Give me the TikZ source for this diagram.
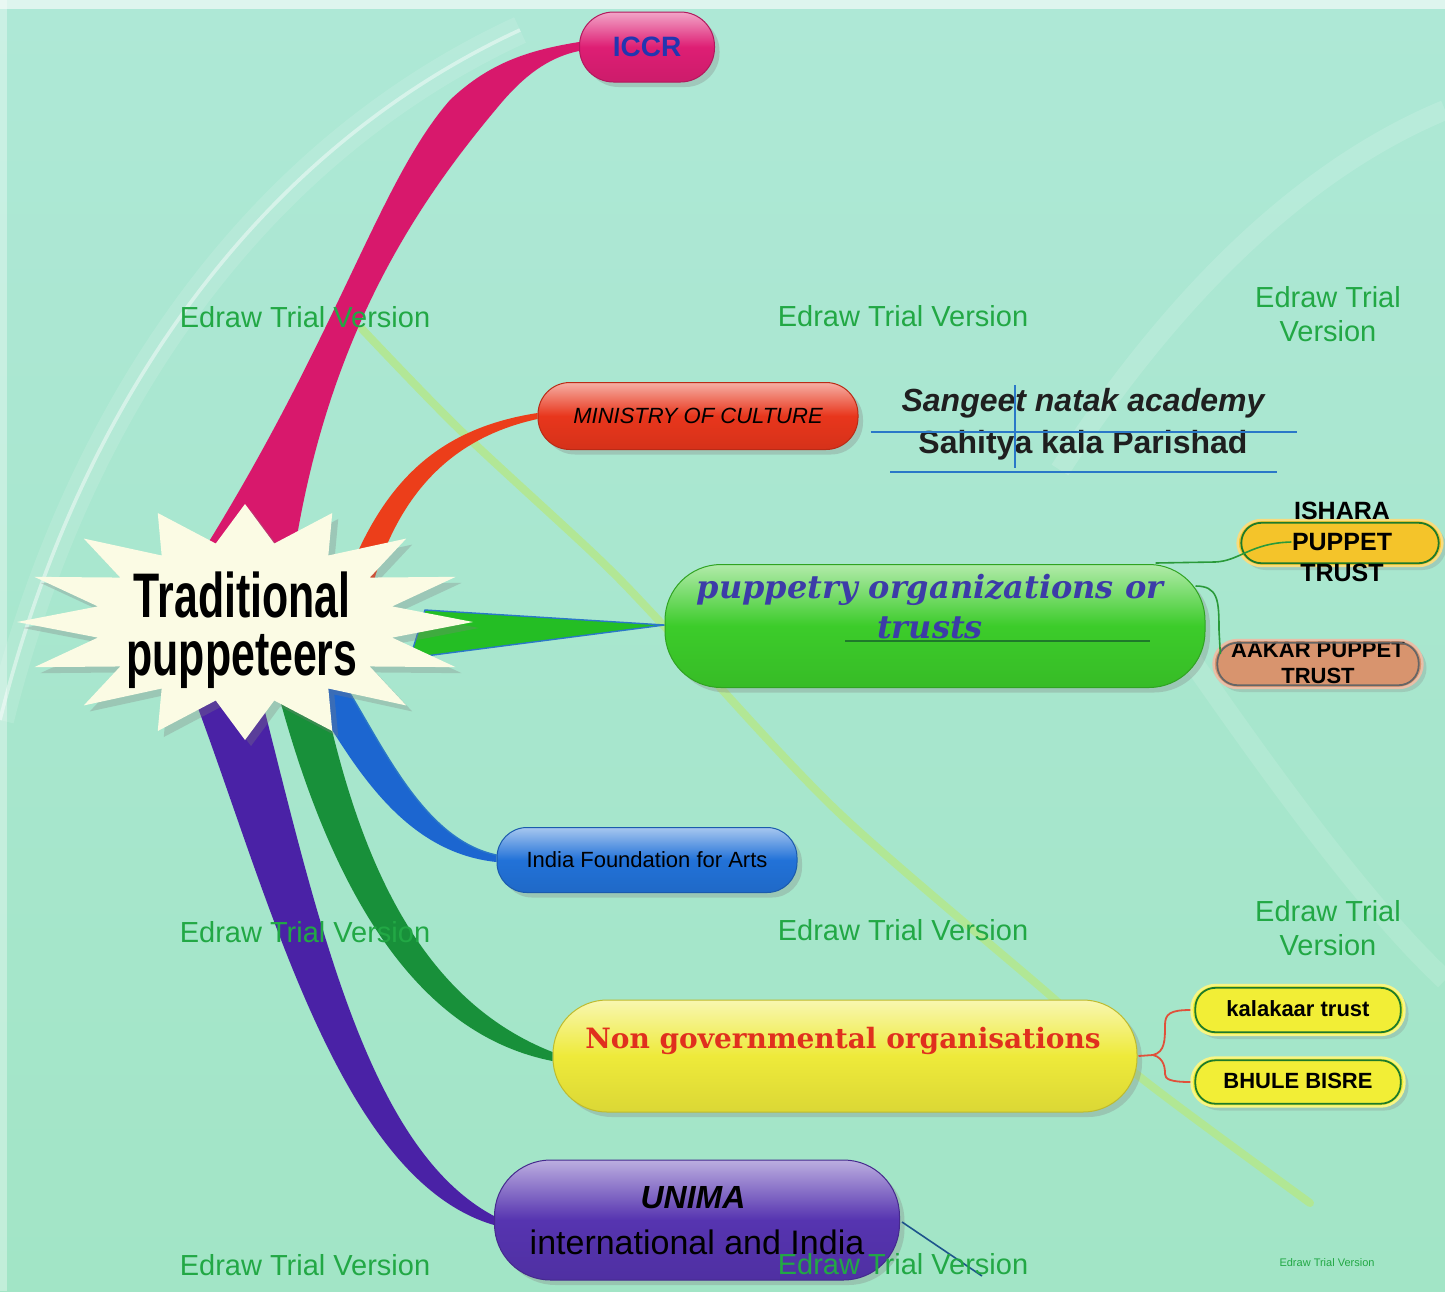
\documentclass[tikz,border=0pt]{standalone}
\usepackage{fontspec}
\setmainfont{Liberation Sans}
\newfontfamily\dvserif{DejaVu Serif}
\usetikzlibrary{shadows,calc}
\definecolor{bgtop}{HTML}{AEE8D6}
\definecolor{bgbot}{HTML}{A2E5C6}
\definecolor{wmC}{HTML}{22A845}
\definecolor{cICCR}{HTML}{DE1E74}
\definecolor{cMin}{HTML}{E8361C}
\definecolor{cPup}{HTML}{3CCC2A}
\definecolor{cInd}{HTML}{2272D8}
\definecolor{cNgo}{HTML}{EEEA3A}
\definecolor{cUni}{HTML}{5634B0}
\definecolor{rMag}{HTML}{D8186C}
\definecolor{rRed}{HTML}{EC3E1A}
\definecolor{rGrn}{HTML}{24BE24}
\definecolor{rBlu}{HTML}{1C66D0}
\definecolor{rDgr}{HTML}{18903A}
\definecolor{rPur}{HTML}{4A22A6}
\definecolor{ishC}{HTML}{F4C42A}
\definecolor{aakC}{HTML}{D8946E}
\definecolor{smallY}{HTML}{F2EE36}
\definecolor{dkgreen}{HTML}{1E7A2A}
\definecolor{pupText}{HTML}{3C3CA8}
\definecolor{ngoText}{HTML}{E0301E}
\definecolor{iccrText}{HTML}{2236B0}
\definecolor{starC}{HTML}{FBFBE4}
\definecolor{lineBlue}{HTML}{2A78C8}
\definecolor{diagC}{HTML}{B4E88C}
\definecolor{conRed}{HTML}{E0503A}
\definecolor{conGrn}{HTML}{2A9A3A}
\pgfdeclarelayer{back}\pgfdeclarelayer{ribbons}\pgfdeclarelayer{front}
\pgfsetlayers{back,ribbons,main,front}
\newcommand\fsz[2]{\fontsize{#1}{#2}\selectfont}
\begin{document}
\begin{tikzpicture}[x=0.5pt,y=-0.5pt,
  pill/.style={rectangle, inner sep=0pt, top color=#1!40!white, bottom color=#1!92!black, middle color=#1,
     draw=#1!80!black, line width=0.5pt,
     drop shadow={opacity=0.3, shadow xshift=2.5pt, shadow yshift=-2.5pt}},
  smallpill/.style={rectangle, inner sep=0pt, rounded corners=12pt, fill=#1, draw=#1!60!white, line width=1.2pt,
     drop shadow={opacity=0.25, shadow xshift=2pt, shadow yshift=-2pt}},
  innerline/.style={draw=dkgreen, line width=0.9pt, rounded corners=10pt},
  wmark/.style={text=wmC, font=\fsz{14.5}{17}, align=center, inner sep=0pt},
  ribbonedge/.style={draw=lineBlue, line width=0.7pt},
  txt/.style={inner sep=0pt, align=center}
]
\useasboundingbox (0,0) rectangle (1445,1291);

% ---------- background ----------
\begin{pgfonlayer}{back}
\fill[top color=bgtop, bottom color=bgbot] (0,0) rectangle (1445,1291);
\fill[white, opacity=0.6] (0,0) rectangle (1445,9);
\fill[white, opacity=0.35] (0,0) rectangle (7,1291);
\draw[white, opacity=0.12, line width=14pt] (0,720) .. controls (80,400) and (260,150) .. (520,30);
\draw[white, opacity=0.45, line width=1.8pt] (0,720) .. controls (80,400) and (260,150) .. (520,30);
\draw[white, opacity=0.14, line width=10pt] (1445,110) .. controls (1300,170) and (1170,300) .. (1060,470);
\draw[white, opacity=0.12, line width=10pt] (1150,600) .. controls (1260,760) and (1360,900) .. (1445,980);
\draw[diagC, opacity=0.85, line width=4pt, line cap=round] plot[smooth] coordinates {(362,329) (459,429) (597,557) (665,627) (836,810) (1052,997) (1140,1077) (1310,1203)};
\end{pgfonlayer}

% ---------- nodes ----------
\coordinate (hub) at (245,622);
\node[pill=cICCR, minimum width=67.5pt, minimum height=35pt, rounded corners=17pt,
      text=iccrText, font=\fsz{14}{16}\bfseries] (iccr) at (647,47) {ICCR};
\node[pill=cMin, minimum width=160pt, minimum height=33.5pt, rounded corners=16pt,
      font=\fsz{11}{13}\itshape] (min) at (698,416) {MINISTRY OF CULTURE};
\node[pill=cPup, minimum width=270pt, minimum height=61.5pt, rounded corners=28pt] (pup) at (935,626) {};
\node[txt, text=pupText, font=\dvserif\fsz{16}{18}\bfseries\itshape] (pupA) at (930,590) {puppetry organizations or};
\node[txt, text=pupText, font=\dvserif\fsz{16}{18}\bfseries\itshape] (pupB) at (930,628) {trusts};
\draw[dkgreen, line width=0.6pt] (845,641) -- (1150,641);
\node[pill=cInd, minimum width=150pt, minimum height=32.5pt, rounded corners=15pt,
      font=\fsz{11}{13}] (ind) at (647,860) {India Foundation for Arts};
\node[pill=cNgo, minimum width=292pt, minimum height=56pt, rounded corners=27pt] (ngo) at (845,1056) {};
\node[txt, text=ngoText, font=\dvserif\fsz{14}{16}\bfseries] (ngoT) at (843,1041) {Non governmental organisations};
\node[pill=cUni, minimum width=202.5pt, minimum height=60pt, rounded corners=28pt] (uni) at (697,1220) {};
\node[txt, font=\fsz{16}{18}\bfseries\itshape] (uniA) at (693,1198) {UNIMA};
\node[txt, font=\fsz{17}{19}] (uniB) at (697,1242) {international and India};

% Sangeet / Sahitya
\node[txt, font=\fsz{16}{18}\bfseries\itshape, text=black!88] (sna) at (1083,403) {Sangeet natak academy};
\node[txt, font=\fsz{16}{18}\bfseries, text=black!88] (skp) at (1083,445) {Sahitya kala Parishad};
\draw[lineBlue, line width=0.8pt] ($(min.east)+(12,16)$) -- (1297,432);
\draw[lineBlue, line width=0.8pt] (890,472) -- (1277,472);
\draw[lineBlue, line width=0.8pt] (1015,385) -- (1015,468);

% small pills
\node[smallpill=ishC, minimum width=102.5pt, minimum height=23pt] (ish) at (1340,543) {};
\draw[innerline] ($(ish.north west)+(5,4)$) rectangle ($(ish.south east)+(-5,-4)$);
\node[smallpill=aakC, minimum width=104.5pt, minimum height=24pt] (aak) at (1318,664) {};
\node[smallpill=smallY, minimum width=106.5pt, minimum height=25pt] (kal) at (1298,1010) {};
\draw[innerline] ($(kal.north west)+(5,4)$) rectangle ($(kal.south east)+(-5,-4)$);
\node[txt, font=\fsz{11}{13}\bfseries] (kalT) at (1298,1009) {kalakaar trust};
\node[smallpill=smallY, minimum width=106.5pt, minimum height=24.5pt] (bhu) at (1298,1082) {};
\draw[innerline] ($(bhu.north west)+(5,4)$) rectangle ($(bhu.south east)+(-5,-4)$);
\node[txt, font=\fsz{11}{13}\bfseries] (bhuT) at (1298,1081) {BHULE BISRE};

% connectors to small pills
\draw[conRed, line width=0.9pt] ($(ngo.east)+(1,0)$) -- (1153,1055) .. controls (1165,1052) and (1165,1040) .. (1165,1025) .. controls (1165,1014) and (1170,1010) .. (kal.west);
\draw[conRed, line width=0.9pt] (1153,1055) .. controls (1165,1058) and (1165,1070) .. (1165,1074) .. controls (1165,1079) and (1170,1082) .. (bhu.west);
\draw[lineBlue!70!black, line width=0.8pt] ($(uni.east)+(2,2)$) -- (982,1276);

\begin{pgfonlayer}{front}
\node[txt, font=\fsz{12.5}{15.5}\bfseries] (ishT) at (1342,542) {ISHARA\\PUPPET\\TRUST};
\node[txt, font=\fsz{11}{13}\bfseries] (aakT) at (1318,663) {AAKAR PUPPET\\TRUST};
\draw[innerline, draw=black!60] ($(aak.north west)+(5,4)$) rectangle ($(aak.south east)+(-5,-4)$);
\draw[conGrn, line width=0.8pt] ($(pup.north east)+(-50,-1)$) -- (1215,562) .. controls (1240,561) and (1250,543) .. ($(ish.west)+(55,-1)$);
\draw[conGrn, line width=0.8pt] ($(pup.east)+(-10,-40)$) .. controls (1218,586) and (1219,600) .. (1219,630) -- ($(aak.west)+(8,-10)$);
\node[wmark] (wm1) at (305,317) {Edraw Trial Version};
\node[wmark] (wm2) at (903,316) {Edraw Trial Version};
\node[wmark] (wm3) at (1328,314) {Edraw Trial\\Version};
\node[wmark] (wm4) at (305,932) {Edraw Trial Version};
\node[wmark] (wm5) at (903,930) {Edraw Trial Version};
\node[wmark] (wm6) at (1328,928) {Edraw Trial\\Version};
\node[wmark] (wm7) at (305,1265) {Edraw Trial Version};
\node[wmark] (wm8) at (903,1264) {Edraw Trial Version};
\node[txt, text=wmC, font=\fsz{5.5}{6}] (wm9) at (1327,1263) {Edraw Trial Version};
\end{pgfonlayer}

% ---------- ribbons ----------
\begin{pgfonlayer}{ribbons}
\fill[rMag] (205,548) .. controls (340,330) and (380,180) .. (450,100)
   .. controls (490,62) and (530,50) .. ([yshift=2.5pt]iccr.west)
   -- ([yshift=-2pt]iccr.west) .. controls (545,58) and (520,80) .. (497,108)
   .. controls (420,200) and (330,330) .. (295,548) -- cycle;
\fill[rRed] (348,575) .. controls (385,480) and (440,428) .. ([yshift=1.5pt]min.west)
   -- ([yshift=-1.5pt]min.west) .. controls (450,438) and (400,495) .. (374,580) -- cycle;
\filldraw[fill=rGrn, ribbonedge] (425,610) -- ([yshift=0.5pt]pup.west) -- (410,658) -- cycle;
\fill[rBlu] (305,685) .. controls (350,760) and (400,852) .. ([yshift=-1pt]ind.west)
   -- ([yshift=2.5pt]ind.west) .. controls (425,840) and (385,750) .. (345,685) -- cycle;
\draw[lineBlue, line width=0.7pt] (345,685) .. controls (385,750) and (425,840) .. ([yshift=2.5pt]ind.west);
\fill[rDgr] (280,700) .. controls (335,900) and (420,1035) .. ([yshift=-2.5pt]ngo.west)
   -- ([yshift=2pt]ngo.west) .. controls (420,1000) and (360,860) .. (325,700) -- cycle;
\fill[rPur] (195,700) .. controls (270,900) and (340,1180) .. ([yshift=-2.5pt]uni.west)
   -- ([yshift=2pt]uni.west) .. controls (370,1150) and (320,930) .. (262,700) -- cycle;
\end{pgfonlayer}

% ---------- central star ----------
\path[fill=starC, drop shadow={opacity=0.3, shadow xshift=3pt, shadow yshift=-3pt}]
  plot[variable=\k, samples at={0,...,31}]
  ({245+ifthenelse(mod(\k,2)==0,228,150)*cos(180+11.25*\k)},
   {622+ifthenelse(mod(\k,2)==0,118,80)*sin(180+11.25*\k)}) -- cycle;
\node[txt, font=\fsz{31.5}{29}\bfseries] (tp) at (242,630) {\scalebox{0.68}[1]{Traditional}\\\scalebox{0.68}[1]{puppeteers}};
\end{tikzpicture}
\end{document}
